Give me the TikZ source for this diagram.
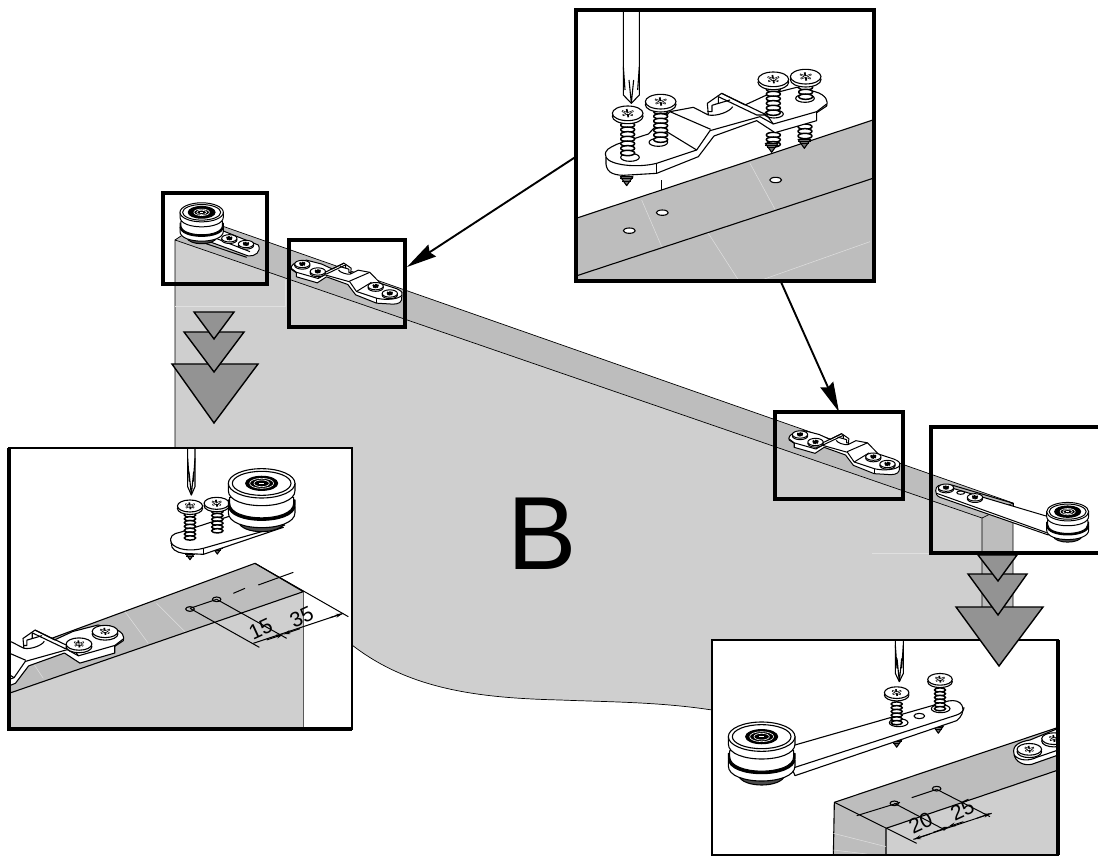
\documentclass[tikz,border=0pt]{standalone}
\usepackage{fontspec}
\setmainfont{Liberation Sans}
\usetikzlibrary{arrows.meta}
\definecolor{face}{HTML}{CFCFCF}
\definecolor{strip}{HTML}{BDBDBD}
\definecolor{tri}{HTML}{939393}
\tikzset{
  framebox/.style={draw=black,line width=3.6pt,line join=miter},
  thinframe/.style={draw=black,line width=2pt,line join=miter},
  bigparts/.style={line width=1.1pt,line join=round},
  smallparts/.style={line width=1pt,line join=round},
  trimark/.style={draw=black,fill=tri,line width=1.4pt,line join=miter},
  faint/.style={draw=white!88!black,line width=.5pt},
  dimline/.style={line width=1pt},
  dimtext/.style={font=\fontsize{21}{21}\selectfont,rotate=25,inner sep=0pt},
  dimtip/.style={dimline,-{Stealth[length=7pt,width=4pt]}},
  leader/.style={line width=1.9pt,-{Stealth[length=30pt,width=14pt,inset=3pt]}}
}
\def\hs{1}
\def\mycrs{white}
\def\myrc{48}
% all parts below are drawn in units of 1/3 px
\newcommand{\myhead}[2]{\begin{scope}[shift={(#1,#2)},scale=\hs]
  \draw[fill=white] (0,9) ellipse (46 and 22);
  \draw[fill=white] (0,0) ellipse (46 and 22);
  \draw[line width=1.7pt] (-17,-7)--(15,6) (-15,6)--(17,-7) (-3,-13)--(2,12);
  \draw[\mycrs,line width=.5pt] (-15,-6)--(13,5) (-13,5)--(15,-6);
\end{scope}}
\newcommand{\mythreads}[3]{\pgfmathsetmacro\mystep{14*\hs}\pgfmathsetmacro\mysec{#2+\mystep}
  \foreach \mi in {#2,\mysec,...,#3}{\draw[fill=white,line width=1.5pt] (#1,\mi) ellipse ({21*\hs} and {8*\hs});}}
\newcommand{\mytip}[2]{\begin{scope}[shift={(#1,#2)},scale=\hs]
  \draw[fill=black!55] (-19,0)--(19,0)--(0,27)--cycle;
  \draw[line width=1pt] (-19,7)--(19,7) (-14,14)--(14,14);
\end{scope}}
\newcommand{\mydriver}[4]{% x left, x right, y top, y tip
  \draw[fill=white] (#1,#3)--(#1,#4-25)--({(#1+#2)/2},#4)--(#2,#4-25)--(#2,#3)--cycle;
  \draw ({(#1+#2)/2},#4)--({(#1+#2)/2-7},#4-70) ({(#1+#2)/2},#4)--({(#1+#2)/2+7},#4-70) (#1,#4-110)--(#1+5,#4-40) (#2,#4-110)--(#2-5,#4-40);}
\newcommand{\myroller}[3]{\begin{scope}[shift={(#1,#2)},scale=#3]
  \pgfmathsetmacro\myrcy{\myrc*.44}
  \draw[fill=black!70] (-70,115) .. controls (-60,155) and (60,155) .. (70,115) -- cycle;
  \draw[fill=white] (-100,70)--(-100,88) .. controls (-100,148) and (100,148) .. (100,88)--(100,70)--cycle;
  \draw[fill=black] (-100,50)--(-100,66) .. controls (-100,126) and (100,126) .. (100,66)--(100,50)--cycle;
  \draw[fill=white] (-96,42)--(-96,60) .. controls (-96,118) and (96,118) .. (96,60)--(96,42)--cycle;
  \draw[fill=white] (-100,0)--(-100,22) .. controls (-100,82) and (100,82) .. (100,22)--(100,0)--cycle;
  \draw[fill=white] (0,0) ellipse (100 and 44);
  \draw (0,0) ellipse (88 and 36);
  \draw[fill=black] (0,0) circle[x radius=\myrc,y radius=\myrcy];
  \draw[white,line width=.6pt] (0,0) ellipse (36 and 15) (0,0) ellipse (23 and 10);
  \draw[white,line width=.6pt] (-8,0)--(8,0);
\end{scope}}
\newcommand{\mybracket}{%
  \draw[fill=white] (108,470) .. controls (100,450) and (120,443) .. (140,433)
    --(235,402)--(300,335)--(370,322)--(415,345)--(412,310)--(455,280)--(525,315)
    --(590,285)--(680,262)--(735,275) .. controls (770,285) and (775,305) .. (770,318)
    --(740,338)--(740,362)--(615,398)--(560,362)--(432,408)--(385,470)--(260,520)
    --(160,526) .. controls (125,525) and (105,515) .. (108,480)--cycle;
  \draw (108,472) .. controls (120,495) and (200,505) .. (260,490)--(380,450)--(420,392)
    --(570,350)--(610,372)--(740,335)--(770,312);
  \draw (260,490)--(260,520) (740,335)--(740,362);
  \draw (300,335)--(422,388) (290,395)--(380,450);
  \draw (445,290)--(560,345)--(590,345)--(610,372) (455,280)--(590,345);
  \draw (415,345) .. controls (440,350) and (480,335) .. (488,320) (412,335)--(426,335)--(426,316)--(445,310)--(445,290) (426,316)--(480,300);
  \draw (180,472) ellipse (28 and 12) (265,427) ellipse (28 and 12) (612,342) ellipse (28 and 12) (705,295) ellipse (28 and 12);
}
\begin{document}
\begin{tikzpicture}[x=1pt,y=-1pt]
\useasboundingbox (0,0) rectangle (1098,858);
% ---- panel
\fill[face] (175,240)--(982,518)--(982,640)--(712,640)--(712,710)
  .. controls (660,702) and (610,702) .. (560,700)
  .. controls (480,698) and (410,690) .. (352,645)--(175,448)--cycle;
\fill[strip] (175,240)--(205,220)--(1013,503)--(982,518)--cycle;
\fill[strip] (982,518)--(1013,503)--(1013,640)--(982,640)--cycle;
\draw[line width=.7pt] (175,448)--(175,240)--(982,518)--(982,640);
\draw[line width=.7pt] (175,240)--(205,220)--(1013,503)--(1013,640) (982,518)--(1013,503);
\draw[line width=.7pt] (352,645) .. controls (410,690) and (480,698) .. (560,700)
  .. controls (610,702) and (660,702) .. (712,710);
\draw[faint] (175,306)--(285,306)--(285,280) (872,553)--(930,553);
% ---- small parts on the panel
\begin{scope}[shift={(150,180)},scale=1/3,smallparts]
  \def\hs{.5}\def\mycrs{black}\def\myrc{62}
  \draw[fill=white] (165,180)--(200,145)--(325,195) .. controls (335,215) and (315,230) .. (295,228)--cycle;
  \draw (165,190)--(290,232);
  \draw (190,172)--(300,215);
  \myhead{238}{175} \myhead{288}{192}
  \myroller{155}{97}{.65}
\end{scope}
\begin{scope}[shift={(419.8,216.5)},xscale=-1/6,yscale=1/6,smallparts]
  \def\mycrs{black}
  \mybracket
  \myhead{705}{285} \myhead{612}{330} \myhead{265}{418} \myhead{180}{462}
\end{scope}
\begin{scope}[shift={(917.5,387)},xscale=-1/6,yscale=1/6,smallparts]
  \def\mycrs{black}
  \mybracket
  \myhead{705}{285} \myhead{612}{330} \myhead{265}{418} \myhead{180}{462}
\end{scope}
\begin{scope}[shift={(770,400)},scale=1/3,smallparts]
  \def\hs{.5}\def\mycrs{black}\def\myrc{62}
  \draw (545,255)--(730,310)--(730,320);
  \draw[fill=white] (497,272) .. controls (497,258) and (510,250) .. (525,258)--(835,350)--(835,405)--(510,292) .. controls (500,288) and (497,280) .. (497,272)--cycle;
  \draw (500,280)--(830,398);
  \draw (572,278) ellipse (12 and 5);
  \myhead{528}{263} \myhead{615}{292}
  \myroller{893}{335}{.63}
\end{scope}
% ---- frames on the panel
\draw[framebox] (163,193) rectangle (267,284);
\draw[framebox] (289,240) rectangle (405,327);
\draw[framebox] (775,412) rectangle (903,499);
\draw[framebox] (1102,427)--(931,427)--(931,553)--(1102,553);
% ---- arrows
\coordinate (detailW) at (577,156);
\coordinate (frameA) at (407,267);
\coordinate (detailS) at (781,282);
\coordinate (frameB) at (839,412);
\draw[leader] (detailW)--(frameA);
\draw[leader] (detailS)--(frameB);
% ---- left triangles
\draw[trimark] (172,364)--(258,364)--(214,423)--cycle;
\draw[trimark] (184,332)--(244,332)--(214,372)--cycle;
\draw[trimark] (194,312)--(234,312)--(214,339)--cycle;
% ---- lower-left detail
\fill[white] (9,448) rectangle (352,729);
\begin{scope}
\clip (9,448) rectangle (352,729);
\begin{scope}[shift={(0,440)},scale=1/3,bigparts]
  \def\hs{.82}
  \fill[face] (33,758)--(910,455)--(910,870)--(33,870)--cycle;
  \fill[strip] (33,640)--(765,370)--(910,455)--(33,758)--cycle;
  \draw (33,640)--(765,370)--(910,455)--(33,758);
  \draw[line width=1.4pt,black!65] (910,455)--(910,870);
  \draw[faint] (375,515)--(445,610) (470,490)--(555,575) (100,670)--(130,715);
  \draw[fill=strip,draw=black] (570,507) ellipse (13 and 7) (650,478) ellipse (13 and 7);
  \draw[dimline] (570,505)--(650,478) (700,460)--(735,445) (775,435)--(880,397);
  \draw[dimline] (570,505)--(778,622) (650,478)--(860,595) (765,370)--(1045,530);
  \draw[dimline] (760,610)--(1030,520);
  \draw[dimtip] (900,566)--(850,583);
  \draw[dimtip] (800,600)--(850,583);
  \draw[dimtip] (990,533)--(1028,521);
  \node[dimtext] (dimA) at (782,566) {15};
  \node[dimtext] (dimB) at (905,530) {35};
  % screw assembly
  \mytip{570}{337} \mytip{652}{320}
  \draw[fill=white] (515,310) .. controls (505,290) and (520,280) .. (540,277)--(700,225)--(850,262)--(610,343)--(550,340) .. controls (530,338) and (510,325) .. (515,310)--cycle;
  \draw (512,308) .. controls (530,330) and (570,335) .. (610,325)--(855,255);
  \draw (610,325)--(610,343);
  \mythreads{570}{225}{300}
  \mythreads{652}{215}{278}
  \myhead{570}{198} \myhead{650}{190}
  \myroller{785}{130}{1}
  \mydriver{563}{585}{25}{165}
  % bracket left over from the first step
  \begin{scope}[shift={(-277,335)},scale=.84]
    \def\hs{1}
    \mybracket
    \myhead{705}{285} \myhead{612}{330}
  \end{scope}
\end{scope}
\end{scope}
\draw[thinframe] (9,448) rectangle (352,729);
\draw[framebox] (9,448)--(9,729)--(352,729);
% ---- lower-right detail
\fill[white] (712,640) rectangle (1058,855);
\begin{scope}
\clip (712,640) rectangle (1058,855);
\begin{scope}[shift={(700,630)},scale=1/3,bigparts]
  \def\hs{.8}
  \fill[strip] (403,517)--(400,680)--(558,680)--(558,595)--cycle;
  \fill[face] (558,595)--(1075,420)--(1075,680)--(558,680)--cycle;
  \fill[strip] (403,517)--(1075,292)--(1075,420)--(558,595)--cycle;
  \draw (400,680)--(403,517)--(1075,292) (558,680)--(558,595)--(1075,420);
  \draw[faint] (400,610)--(558,650) (400,660)--(500,672);
  \draw[fill=strip] (583,520) ellipse (13 and 7) (710,476) ellipse (13 and 7);
  \draw[dimline] (470,557)--(600,517) (635,503)--(710,478);
  \draw[dimline] (403,517)--(650,640) (583,520)--(735,600) (710,478)--(870,560);
  \draw[dimline] (640,628)--(875,550);
  \draw[dimtip] (690,612)--(642,628);
  \draw[dimtip] (700,607)--(748,590);
  \draw[dimtip] (790,575)--(745,590);
  \draw[dimtip] (830,565)--(872,550);
  \node[dimtext] (dimC) at (662,578) {20};
  \node[dimtext] (dimD) at (787,540) {25};
  % roller arm
  \mytip{590}{330} \mytip{715}{288}
  \draw[fill=white] (250,355)--(745,213) .. controls (785,205) and (800,235) .. (780,262)--(770,272)--(285,437)--cycle;
  \draw (285,412)--(770,255) .. controls (785,250) and (792,240) .. (792,232);
  \draw (658,258) ellipse (16 and 8);
  \draw (596,278) ellipse (28 and 12) (722,236) ellipse (28 and 12);
  \myroller{185}{320}{1}
  \mythreads{590}{222}{285}
  \mythreads{720}{180}{240}
  \myhead{590}{188} \myhead{720}{148}
  \mydriver{586}{610}{25}{155}
  % bracket left from the first step
  \draw[fill=white] (942,372) .. controls (935,345) and (960,335) .. (990,330)--(1075,295)--(1075,375)--(995,403) .. controls (970,408) and (945,395) .. (942,372)--cycle;
  \draw (942,375) .. controls (960,395) and (990,392) .. (1010,382)--(1075,360);
  \myhead{988}{358} \myhead{1062}{326}
\end{scope}
\end{scope}
\draw[thinframe] (712,640) rectangle (1058,855);
\draw[framebox] (1058,640)--(1058,855);
% ---- right triangles
\draw[trimark] (956,607)--(1043,607)--(999,666)--cycle;
\draw[trimark] (968,574)--(1027,574)--(998,615)--cycle;
\draw[trimark] (978,555)--(1017,555)--(998,581)--cycle;
% ---- top detail
\fill[white] (576,10) rectangle (874,281);
\begin{scope}
\clip (576,10) rectangle (874,281);
\begin{scope}[shift={(570,0)},scale=1/3,bigparts]
  \fill[strip] (18,655)--(915,358)--(915,850)--(18,850)--cycle;
  \draw (18,655)--(915,358) (18,828)--(915,533);
  \draw[faint] (215,600)--(275,740) (540,490)--(615,628) (415,700)--(505,840) (575,840)--(900,725);
  \draw (275,570)--(275,540);
  \draw[fill=white] (178,692) ellipse (18 and 8) (277,638) ellipse (18 and 8) (617,540) ellipse (18 and 8);
  \mytip{170}{530} \mythreads{610}{405}{435} \mytip{605}{430}
  \mythreads{705}{380}{420} \mytip{703}{418}
  \mybracket
  \mythreads{173}{375}{470}
  \mythreads{272}{335}{430}
  \mythreads{610}{268}{345}
  \mythreads{707}{262}{300}
  \myhead{173}{340} \myhead{272}{305} \myhead{610}{238} \myhead{707}{230}
  \mydriver{160}{208}{25}{310}
\end{scope}
\end{scope}
\draw[framebox] (576,10) rectangle (874,281);
% ---- label
\node[inner sep=0pt,font=\fontsize{104}{104}\selectfont] (letterB) at (542,534) {B};
\end{tikzpicture}
\end{document}
